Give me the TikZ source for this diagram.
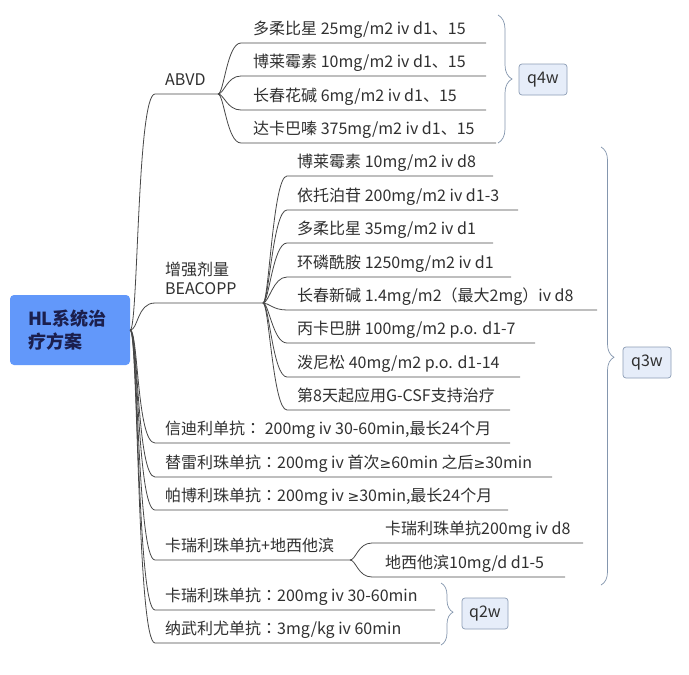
\documentclass[tikz,border=0pt]{standalone}
\usepackage{fontspec}
\setmainfont{Noto Sans CJK SC}
\newfontfamily\tcfont{Noto Sans CJK TC}
\newfontfamily\symfont{DejaVu Sans}
\newcommand\mmge{{\symfont\fontsize{14}{19}\selectfont ≥}}
\newcommand\mmcolon{{\tcfont ：}}
\usetikzlibrary{decorations.pathreplacing}
\definecolor{ink}{HTML}{303030}
\definecolor{linec}{HTML}{474747}
\definecolor{rootblue}{RGB}{98,152,250}
\definecolor{rootink}{HTML}{1B1F4D}
\definecolor{bracec}{HTML}{8496AE}
\definecolor{tagfill}{HTML}{E6EDF9}
\definecolor{tagdraw}{HTML}{8C9DB5}
\tikzset{
  txt/.style={anchor=base west, inner sep=0pt, text=ink, font=\fontsize{16}{19}\selectfont},
  conn/.style={draw=linec, line width=0.8pt},
  rootbox/.style={fill=rootblue, rounded corners=4pt, minimum width=120pt, minimum height=70pt,
     inner xsep=18pt, text width=84pt, align=left, text=rootink, font=\fontsize{18}{23}\selectfont\bfseries},
  bracepath/.style={draw=bracec, line width=0.7pt, decorate},
  tagbox/.style={fill=tagfill, draw=tagdraw, line width=0.7pt, rounded corners=3pt,
     minimum width=48pt, minimum height=31pt, inner sep=0pt, text=ink, font=\fontsize{16}{19}\selectfont}
}
\def\ca{8}\def\cb{18}
% #1 name, #2 parent, #3 line y, #4 line start x, #5 text x, #6 line end x, #7 text
\newcommand\mmbranch[7]{%
  \coordinate (#1s) at (#4,#3);
  \coordinate (#1e) at (#6,#3);
  \node[txt] (#1) at (#5,#3-9) {#7};
  \draw[conn] (#2) .. controls +(\ca,0) and +(-\cb,0) .. (#1s) -- (#1e);
}
\begin{document}
\begin{tikzpicture}[x=1pt,y=-1pt]
\useasboundingbox (0,0) rectangle (689,675);
\fill[white] (0,0) rectangle (689,675);

\node[rootbox] (root) at (70,330) {HL系统治\\疗方案};

% level 1
\def\ca{8}\def\cb{18}
\coordinate (abvds) at (155,94);
\coordinate (abvde) at (218,94);
\node[txt] (abvd) at (165,85) {ABVD};
\draw[conn] (root.east) .. controls +(\ca,0) and +(-\cb,0) .. (abvds) -- (abvde);

\coordinate (beas) at (155,303);
\coordinate (beae) at (263,303);
\node[txt, align=left] (bea) at (165,294) {增强剂量\\BEACOPP};
\draw[conn] (root.east) .. controls +(\ca,0) and +(-\cb,0) .. (beas) -- (beae);

\mmbranch{xdl}{root.east}{443}{155}{165}{510}{信迪利单抗\mmcolon{} 200mg iv 30-60min,最长24个月}
\mmbranch{tlz}{root.east}{477}{155}{165}{552}{替雷利珠单抗\mmcolon{}200mg iv 首次\mmge{}60min 之后\mmge{}30min}
\mmbranch{pbl}{root.east}{510}{155}{165}{508}{帕博利珠单抗\mmcolon{}200mg iv \mmge{}30min,最长24个月}
\mmbranch{kdx}{root.east}{560}{155}{165}{350}{卡瑞利珠单抗+地西他滨}
\mmbranch{krl}{root.east}{610}{155}{165}{435}{卡瑞利珠单抗\mmcolon{}200mg iv 30-60min}
\mmbranch{nwl}{root.east}{643}{155}{165}{440}{纳武利尤单抗\mmcolon{}3mg/kg iv 60min}

% ABVD leaves
\def\ca{6}\def\cb{14}
\mmbranch{a1}{abvde}{43}{241}{253}{486}{多柔比星 25mg/m2 iv d1、15}
\mmbranch{a2}{abvde}{76}{241}{253}{486}{博莱霉素 10mg/m2 iv d1、15}
\mmbranch{a3}{abvde}{110}{241}{253}{486}{长春花碱 6mg/m2 iv d1、15}
\mmbranch{a4}{abvde}{143}{241}{253}{496}{达卡巴嗪 375mg/m2 iv d1、15}

% BEACOPP leaves
\mmbranch{b1}{beae}{176}{287}{297}{493}{博莱霉素 10mg/m2 iv d8}
\mmbranch{b2}{beae}{210}{287}{297}{518}{依托泊苷 200mg/m2 iv d1-3}
\mmbranch{b3}{beae}{243}{287}{297}{493}{多柔比星 35mg/m2 iv d1}
\mmbranch{b4}{beae}{277}{287}{297}{511}{环磷酰胺 1250mg/m2 iv d1}
\mmbranch{b5}{beae}{310}{287}{297}{597}{长春新碱 1.4mg/m2（最大2mg）iv d8}
\mmbranch{b6}{beae}{343}{287}{297}{535}{丙卡巴肼 100mg/m2 p.o. d1-7}
\mmbranch{b7}{beae}{377}{287}{297}{520}{泼尼松 40mg/m2 p.o. d1-14}
\mmbranch{b8}{beae}{410}{287}{297}{510}{第8天起应用G-CSF支持治疗}

% camrelizumab + decitabine leaves
\mmbranch{k1}{kdxe}{543}{372}{385}{583}{卡瑞利珠单抗200mg iv d8}
\mmbranch{k2}{kdxe}{577}{372}{385}{565}{地西他滨10mg/d d1-5}

% braces and tags
\coordinate (q4t) at (498,15);
\coordinate (q4b) at (498,143);
\draw[bracepath, decoration={brace, amplitude=14pt}] (q4t) -- (q4b);
\node[tagbox] (q4w) at (543,79.5) {q4w};

\coordinate (q3t) at (601,147);
\coordinate (q3b) at (601,585);
\draw[bracepath, decoration={brace, amplitude=13pt, aspect=0.48}] (q3t) -- (q3b);
\node[tagbox] (q3w) at (647,362.5) {q3w};

\coordinate (q2t) at (441,583);
\coordinate (q2b) at (441,645);
\draw[bracepath, decoration={brace, amplitude=12pt, aspect=0.47}] (q2t) -- (q2b);
\node[tagbox, minimum width=46pt] (q2w) at (485,613.5) {q2w};
\end{tikzpicture}
\end{document}
